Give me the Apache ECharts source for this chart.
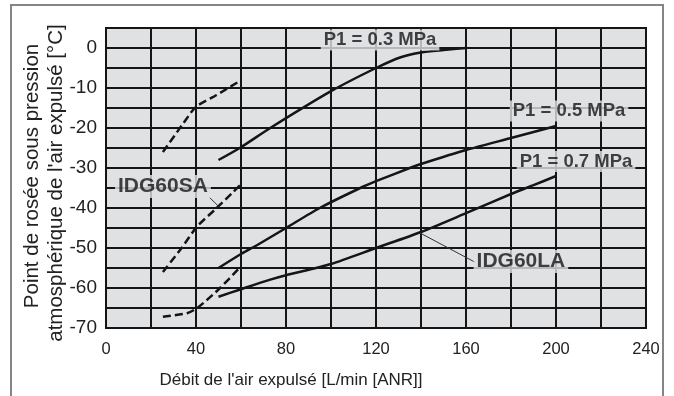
<!DOCTYPE html>
<html>
<head>
<meta charset="utf-8">
<script src="https://cdn.jsdelivr.net/npm/echarts@6/dist/echarts.min.js"></script>
<style>
html, body { margin: 0; padding: 0; background: #fff; }
#main { width: 674px; height: 396px; }
</style>
</head>
<body>
<div id="main"></div>
<script type="text/javascript">
// solid curves (IDG60LA)
var p03X = [50, 60, 73, 100, 120, 131, 140, 150, 160];
var p03Y = [-28, -24.8, -20, -10.8, -5, -2.3, -1.1, -0.5, 0];
var p05X = [50, 60, 68, 80, 95, 113, 120, 135, 140, 160, 180, 200];
var p05Y = [-55, -51.5, -49, -45, -40, -35, -33.3, -30, -29, -25.5, -22.5, -19.5];
var p07X = [50, 60, 73, 80, 100, 120, 140, 160, 180, 190, 200];
var p07Y = [-62.2, -60.3, -57.9, -56.8, -54, -50, -46, -41.3, -36.5, -34.3, -32];
// dashed curves (IDG60SA)
var saTopX = [25.3, 34.4, 40, 49.2, 59.6];
var saTopY = [-26, -18.8, -14.7, -11.75, -8.2];
var saMidX = [25.3, 33.6, 40.4, 49.2, 56.5, 59.6];
var saMidY = [-56, -50, -44.7, -40, -36, -34.3];
var saLowX = [25.3, 36, 41, 50.7, 59.6];
var saLowY = [-67.2, -66.3, -64.8, -60, -54.8];
// leader lines
var leadSAX = [45.9, 49.9];
var leadSAY = [-37.3, -39.5];
var leadLAX = [139.6, 164.2];
var leadLAY = [-46.25, -53.6];
// labels
var labelNames = ['P1 = 0.3 MPa', 'P1 = 0.5 MPa', 'P1 = 0.7 MPa', 'IDG60SA', 'IDG60LA'];
var labelX = [121.8, 205.8, 208.9, 25.3, 184.4];
var labelY = [2, -15.75, -28.4, -34.6, -53.4];
var labelSize = [18.5, 18.5, 18.5, 21, 21];

var plotBg = '#e0e1e3';
var ink = '#151515';

function zip(xs, ys) {
    var out = [];
    for (var i = 0; i < xs.length; i++) out.push([xs[i], ys[i]]);
    return out;
}

function curve(name, xs, ys, dashed) {
    return {
        name: name,
        type: 'line',
        data: zip(xs, ys),
        smooth: 0.25,
        showSymbol: false,
        silent: true,
        lineStyle: {color: ink, width: 2.5, type: dashed ? [8, 4] : 'solid'}
    };
}

function leader(xs, ys) {
    return {
        type: 'line',
        data: zip(xs, ys),
        showSymbol: false,
        silent: true,
        lineStyle: {color: '#333', width: 1}
    };
}

var labelData = [];
for (var i = 0; i < labelNames.length; i++) {
    labelData.push({
        name: labelNames[i],
        value: [labelX[i], labelY[i]],
        label: {fontSize: labelSize[i]}
    });
}

var myChart = echarts.init(document.getElementById('main'));
var option = {
    animation: false,
    grid: {
        left: 106, top: 28, right: 28, bottom: 68,
        show: true,
        backgroundColor: plotBg,
        borderColor: ink,
        borderWidth: 2
    },
    xAxis: {
        type: 'value',
        min: 0, max: 240, interval: 20,
        axisLine: {show: false},
        axisTick: {show: false},
        splitLine: {show: true, lineStyle: {color: ink, width: 2}},
        axisLabel: {
            margin: 13,
            color: '#222',
            fontSize: 16.5,
            fontFamily: 'Liberation Sans, Arial',
            formatter: function (v) { return v % 40 === 0 ? String(v) : ''; }
        }
    },
    yAxis: {
        type: 'value',
        min: -70, max: 5, interval: 5,
        axisLine: {show: false},
        axisTick: {show: false},
        splitLine: {show: true, lineStyle: {color: ink, width: 2}},
        axisLabel: {
            margin: 9,
            color: '#222',
            fontSize: 19,
            fontFamily: 'Liberation Sans, Arial',
            formatter: function (v) { return (v % 10 === 0 && v <= 0) ? String(v) : ''; }
        }
    },
    graphic: [
        {
            type: 'rect', silent: true,
            shape: {x: 11, y: 5, width: 652, height: 420},
            style: {fill: 'none', stroke: '#858585', lineWidth: 2}
        },
        {
            type: 'text', x: 291, y: 380, silent: true,
            style: {
                text: "Débit de l'air expulsé [L/min [ANR]]",
                align: 'center', verticalAlign: 'middle',
                fill: '#222',
                font: '17px "Liberation Sans", Arial'
            }
        },
        {
            type: 'text', x: 32, y: 176, rotation: Math.PI / 2, silent: true,
            style: {
                text: 'Point de rosée sous pression',
                align: 'center', verticalAlign: 'middle',
                fill: '#222',
                font: '20.5px "Liberation Sans", Arial'
            }
        },
        {
            type: 'text', x: 56, y: 183, rotation: Math.PI / 2, silent: true,
            style: {
                text: "atmosphérique de l'air expulsé [°C]",
                align: 'center', verticalAlign: 'middle',
                fill: '#222',
                font: '20.5px "Liberation Sans", Arial'
            }
        }
    ],
    series: [
        curve('P1 = 0.3 MPa', p03X, p03Y, false),
        curve('P1 = 0.5 MPa', p05X, p05Y, false),
        curve('P1 = 0.7 MPa', p07X, p07Y, false),
        curve('SA top', saTopX, saTopY, true),
        curve('SA mid', saMidX, saMidY, true),
        curve('SA low', saLowX, saLowY, true),
        leader(leadSAX, leadSAY),
        leader(leadLAX, leadLAY),
        {
            type: 'scatter',
            data: labelData,
            symbolSize: 1,
            silent: true,
            itemStyle: {color: 'rgba(0,0,0,0)'},
            z: 5,
            label: {
                show: true,
                position: 'inside',
                formatter: '{b}',
                color: ink,
                fontWeight: 'bold',
                fontFamily: 'Liberation Sans, Arial',
                backgroundColor: plotBg,
                padding: [1, 3, 1, 3]
            }
        }
    ]
};
myChart.setOption(option);
window.onresize = function () {
    myChart.resize();
};
</script>
</body>
</html>
